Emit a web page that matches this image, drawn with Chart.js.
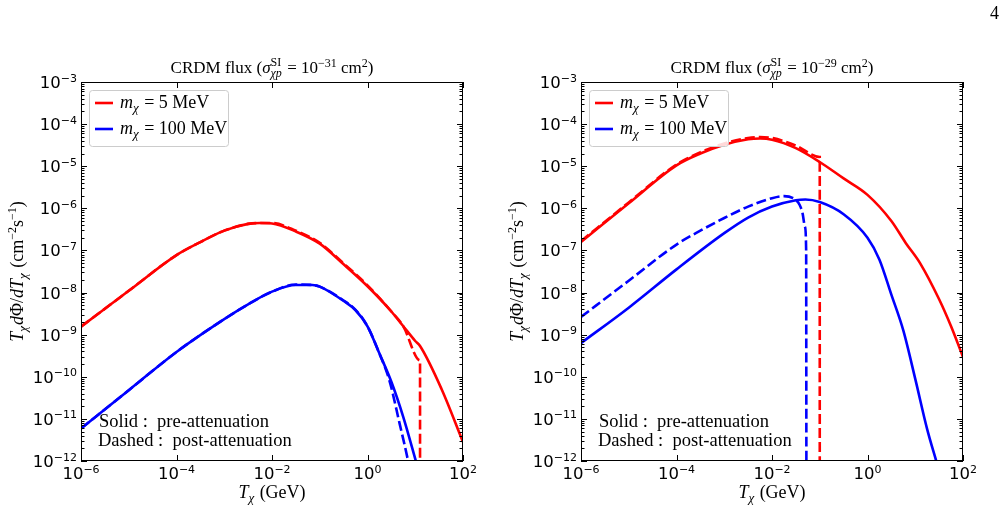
<!DOCTYPE html>
<html>
<head>
<meta charset="utf-8">
<script src="https://cdn.jsdelivr.net/npm/chart.js@4.4.1/dist/chart.umd.min.js"></script>
<style>
    html, body { margin: 0; padding: 0; background: #fff; }
    #wrap { position: relative; width: 1006px; height: 510px; overflow: hidden; }
    .panel { position: absolute; top: 0; height: 510px; }
    #page-no { position: absolute; left: 990px; top: 3px; font: 18px "Liberation Serif", serif; color: #000; }
</style>
</head>
<body>
<div id="wrap">
    <div class="panel" style="left:0;width:503px"><canvas id="crdm-left"></canvas></div>
    <div class="panel" style="left:500px;width:506px"><canvas id="crdm-right"></canvas></div>
    <div id="page-no">4</div>
</div>
<script>
// ---- 刻度 ----
const X_TICK_VALUES = [1e-6, 1e-4, 1e-2, 1, 1e2];
const X_TICK_EXP = ['−6', '−4', '−2', '0', '2'];
const Y_TICK_VALUES = [1e-12, 1e-11, 1e-10, 1e-9, 1e-8, 1e-7, 1e-6, 1e-5, 1e-4, 1e-3];
const Y_TICK_EXP = ['−12', '−11', '−10', '−9', '−8', '−7', '−6', '−5', '−4', '−3'];

// ---- 左圖 sigma = 1e-31 cm^2 ----
const L_RED_T = [1e-6, 1e-5, 1e-4, 3.16e-4, 1e-3, 3.16e-3, 5.62e-3, 1e-2, 3.16e-2, 0.1, 0.316, 1, 3.16, 5.62, 10, 12.6, 35.5, 100];
const L_RED_PRE = [1.55e-9, 1.10e-8, 7.76e-8, 1.58e-7, 2.95e-7, 4.27e-7, 4.47e-7, 4.37e-7, 2.82e-7, 1.45e-7, 4.68e-8, 1.41e-8, 3.55e-9, 1.58e-9, 7.08e-10, 5.37e-10, 5.13e-11, 2.82e-12];
const L_RED_POST_T = [1e-6, 1e-5, 1e-4, 3.16e-4, 1e-3, 3.16e-3, 5.62e-3, 1e-2, 3.16e-2, 0.1, 0.316, 1, 3.16, 5.62, 12.6, 12.6];
const L_RED_POST = [1.55e-9, 1.10e-8, 7.76e-8, 1.58e-7, 2.95e-7, 4.27e-7, 4.47e-7, 4.47e-7, 2.95e-7, 1.51e-7, 4.90e-8, 1.48e-8, 3.55e-9, 1.58e-9, 2.45e-10, 1e-12];
const L_BLUE_T = [1e-6, 1e-5, 1e-4, 1e-3, 3.16e-3, 1e-2, 3.16e-2, 7.08e-2, 0.1, 0.316, 0.562, 1, 1.78, 3.16, 5.62, 10, 11.2];
const L_BLUE_PRE = [5.89e-12, 4.79e-11, 3.89e-10, 2.34e-9, 5.25e-9, 1.05e-8, 1.51e-8, 1.51e-8, 1.38e-8, 6.31e-9, 3.80e-9, 1.58e-9, 3.55e-10, 7.59e-11, 1.10e-11, 1.12e-12, 7.08e-13];
const L_BLUE_POST_T = [1e-6, 1e-5, 1e-4, 1e-3, 3.16e-3, 1e-2, 3.16e-2, 7.08e-2, 0.1, 0.316, 0.562, 1, 1.78, 2.88, 4.68, 7.08, 7.94];
const L_BLUE_POST = [5.89e-12, 4.79e-11, 3.89e-10, 2.34e-9, 5.25e-9, 1.05e-8, 1.55e-8, 1.51e-8, 1.38e-8, 6.46e-9, 3.89e-9, 1.58e-9, 3.55e-10, 8.13e-11, 7.94e-12, 1e-12, 5.01e-13];

// ---- 右圖 sigma = 1e-29 cm^2 ----
const R_RED_T = [1e-6, 1e-5, 1e-4, 3.16e-4, 1e-3, 3.16e-3, 5.62e-3, 1e-2, 3.16e-2, 0.1, 0.316, 1, 3.16, 6.31, 12.6, 31.6, 56.2, 100];
const R_RED_PRE = [1.58e-7, 1.32e-6, 1.05e-5, 2.00e-5, 3.24e-5, 4.37e-5, 4.57e-5, 4.27e-5, 2.69e-5, 1.26e-5, 5.13e-6, 2.09e-6, 5.01e-7, 1.51e-7, 5.01e-8, 6.92e-9, 1.58e-9, 2.95e-10];
const R_RED_POST_T = [1e-6, 1e-5, 1e-4, 3.16e-4, 1e-3, 3.16e-3, 5.62e-3, 1e-2, 3.16e-2, 0.1, 0.1];
const R_RED_POST = [1.66e-7, 1.38e-6, 1.10e-5, 2.14e-5, 3.47e-5, 4.68e-5, 4.90e-5, 4.68e-5, 3.09e-5, 1.66e-5, 1e-12];
const R_BLUE_T = [1e-6, 1e-5, 1e-4, 1e-3, 3.16e-3, 1e-2, 3.16e-2, 5.01e-2, 0.1, 0.316, 1, 1.78, 3.16, 5.62, 10, 17.8, 27.5];
const R_BLUE_PRE = [6.31e-10, 4.37e-9, 3.55e-8, 2.57e-7, 6.03e-7, 1.10e-6, 1.55e-6, 1.62e-6, 1.41e-6, 7.24e-7, 2.00e-7, 6.03e-8, 8.91e-9, 1.26e-9, 8.91e-11, 5.62e-12, 1e-12];
const R_BLUE_POST_T = [1e-6, 1e-5, 1e-4, 3.16e-4, 1e-3, 3.16e-3, 1e-2, 1.78e-2, 3.16e-2, 3.80e-2, 4.37e-2, 4.90e-2, 5.19e-2, 5.25e-2];
const R_BLUE_POST = [2.63e-9, 1.91e-8, 1.38e-7, 2.95e-7, 5.89e-7, 1.10e-6, 1.74e-6, 1.95e-6, 1.58e-6, 1.20e-6, 7.59e-7, 3.63e-7, 1e-7, 1e-12];

const SERIF = '"Liberation Serif", "Times New Roman", serif';
const SANS = '"DejaVu Sans", sans-serif';
const RED = '#ff0000';
const BLUE = '#0000ff';

function runFont(r) {
    return (r.i ? 'italic ' : '') + r.s + 'px ' + (r.fam || SERIF);
}

function runWidth(ctx, r) {
    ctx.font = runFont(r);
    if (r.stack) {
        return Math.max(ctx.measureText(r.stack[0]).width, ctx.measureText(r.stack[1]).width) + 1;
    }
    return ctx.measureText(r.t).width + (r.gap || 0);
}

// 逐段繪製帶上下標的文字
function drawRuns(ctx, runs, x, y, align) {
    const total = runs.reduce((acc, r) => acc + runWidth(ctx, r), 0);
    let cx = align === 'center' ? x - total / 2 : (align === 'right' ? x - total : x);
    ctx.textAlign = 'left';
    ctx.textBaseline = 'alphabetic';
    ctx.fillStyle = '#000';
    runs.forEach(r => {
        const w = runWidth(ctx, r);
        ctx.font = runFont(r);
        if (r.stack) {
            ctx.font = r.s + 'px ' + SERIF;
            ctx.fillText(r.stack[0], cx, y - r.up);
            ctx.font = 'italic ' + r.s + 'px ' + SERIF;
            ctx.fillText(r.stack[1], cx, y + r.down);
        } else {
            ctx.fillText(r.t, cx, y + (r.dy || 0));
        }
        cx += w;
    });
}

function mathTx(size) {
    return [{ t: 'T', s: size, i: true }, { t: 'χ', s: Math.round(size * 0.7), i: true, dy: 4, gap: 1 }];
}

const framePlugin = {
    id: 'crdmFrame',
    afterDraw(chart) {
        const cfg = chart.options.plugins.crdmFrame;
        const ctx = chart.ctx;
        const a = chart.chartArea;
        const xs = chart.scales.x;
        const ys = chart.scales.y;
        ctx.save();

        // 外框
        ctx.strokeStyle = '#000';
        ctx.lineWidth = 1;
        ctx.strokeRect(a.left + 0.5, a.top + 0.5, a.right - a.left - 1, a.bottom - a.top - 1);

        // 內向刻度
        ctx.beginPath();
        Y_TICK_VALUES.forEach((v, idx) => {
            const py = Math.round(ys.getPixelForValue(v)) + 0.5;
            ctx.moveTo(a.left, py); ctx.lineTo(a.left + 6, py);
            ctx.moveTo(a.right, py); ctx.lineTo(a.right - 6, py);
            if (idx < Y_TICK_VALUES.length - 1) {
                for (let m = 2; m <= 9; m++) {
                    const my = Math.round(ys.getPixelForValue(v * m)) + 0.5;
                    ctx.moveTo(a.left, my); ctx.lineTo(a.left + 3.5, my);
                    ctx.moveTo(a.right, my); ctx.lineTo(a.right - 3.5, my);
                }
            }
        });
        X_TICK_VALUES.forEach(v => {
            const px = Math.round(xs.getPixelForValue(v)) + 0.5;
            ctx.moveTo(px, a.top); ctx.lineTo(px, a.top + 6);
            ctx.moveTo(px, a.bottom); ctx.lineTo(px, a.bottom - 6);
        });
        ctx.stroke();

        // 刻度標籤
        Y_TICK_VALUES.forEach((v, idx) => {
            const py = ys.getPixelForValue(v);
            drawRuns(ctx, [
                { t: '10', s: 16.5, fam: SANS },
                { t: Y_TICK_EXP[idx], s: 11, fam: SANS, dy: -6.5 }
            ], a.left - 4, py + 6, 'right');
        });
        X_TICK_VALUES.forEach((v, idx) => {
            const px = xs.getPixelForValue(v);
            drawRuns(ctx, [
                { t: '10', s: 16.5, fam: SANS },
                { t: X_TICK_EXP[idx], s: 11, fam: SANS, dy: -6.5 }
            ], px, a.bottom + 18, 'center');
        });

        const cxMid = (a.left + a.right) / 2;

        // 標題
        drawRuns(ctx, [
            { t: 'CRDM flux (', s: 17 },
            { t: 'σ', s: 17, i: true },
            { stack: ['SI', 'χp'], s: 12, up: 7, down: 4 },
            { t: ' = 10', s: 17 },
            { t: cfg.sigmaExp, s: 12, dy: -6 },
            { t: ' cm', s: 17 },
            { t: '2', s: 12, dy: -6 },
            { t: ')', s: 17 }
        ], cxMid, 73, 'center');

        // X 軸標題
        drawRuns(ctx, mathTx(18).concat([{ t: ' (GeV)', s: 18 }]), cxMid, 498, 'center');

        // Y 軸標題
        ctx.save();
        ctx.translate(23, (a.top + a.bottom) / 2);
        ctx.rotate(-Math.PI / 2);
        drawRuns(ctx, mathTx(18).concat([
            { t: 'd', s: 18, i: true },
            { t: 'Φ/', s: 18 },
            { t: 'dT', s: 18, i: true },
            { t: 'χ', s: 13, i: true, dy: 4, gap: 1 },
            { t: ' (cm', s: 18 },
            { t: '−2', s: 12, dy: -7 },
            { t: 's', s: 18 },
            { t: '−1', s: 12, dy: -7 },
            { t: ')', s: 18 }
        ]), 0, 0, 'center');
        ctx.restore();

        // 圖例
        const lx = a.left + 8.5, ly = a.top + 8.5, lw = 139, lh = 56;
        ctx.fillStyle = 'rgba(255,255,255,0.85)';
        ctx.strokeStyle = '#cccccc';
        ctx.lineWidth = 1;
        ctx.beginPath();
        ctx.roundRect(lx, ly, lw, lh, 3);
        ctx.fill();
        ctx.stroke();
        [[RED, '5 MeV', 21], [BLUE, '100 MeV', 47]].forEach(([col, txt, dy]) => {
            ctx.strokeStyle = col;
            ctx.lineWidth = 2.6;
            ctx.beginPath();
            ctx.moveTo(a.left + 14, a.top + dy);
            ctx.lineTo(a.left + 32, a.top + dy);
            ctx.stroke();
            drawRuns(ctx, [
                { t: 'm', s: 18, i: true },
                { t: 'χ', s: 13, i: true, dy: 4, gap: 1 },
                { t: ' = ' + txt, s: 18 }
            ], a.left + 39, a.top + dy + 5, 'left');
        });

        // 實線 / 虛線說明
        drawRuns(ctx, [{ t: 'Solid :  pre-attenuation', s: 18.5 }], a.left + 18, 427, 'left');
        drawRuns(ctx, [{ t: 'Dashed :  post-attenuation', s: 18.5 }], a.left + 17, 446, 'left');

        ctx.restore();
    }
};

function toPoints(ts, vals) {
    return ts.map((t, i) => ({ x: t, y: vals[i] }));
}

function makeSeries(label, ts, vals, color, dashed) {
    return {
        label: label,
        data: toPoints(ts, vals),
        borderColor: color,
        backgroundColor: color,
        borderWidth: 2.6,
        borderDash: dashed ? [10, 4] : [],
        pointRadius: 0,
        cubicInterpolationMode: 'monotone',
        showLine: true,
        clip: 0
    };
}

function renderCrdmChart(canvasId, series, sigmaExp) {
    const canvas = document.getElementById(canvasId);
    if (!canvas) return null;
    const parentWidth = canvas.parentElement.clientWidth;
    return new Chart(canvas, {
        type: 'scatter',
        data: { datasets: series },
        options: {
            responsive: true,
            maintainAspectRatio: false,
            animation: false,
            layout: { padding: { left: 81, top: 82, right: parentWidth - 463, bottom: 49 } },
            scales: {
                x: { type: 'logarithmic', min: 1e-6, max: 1e2, display: false },
                y: { type: 'logarithmic', min: 1e-12, max: 1e-3, display: false }
            },
            plugins: {
                legend: { display: false },
                tooltip: { enabled: false },
                crdmFrame: { sigmaExp: sigmaExp }
            }
        },
        plugins: [framePlugin]
    });
}

renderCrdmChart('crdm-left', [
    makeSeries('m = 5 MeV pre', L_RED_T, L_RED_PRE, RED, false),
    makeSeries('m = 5 MeV post', L_RED_POST_T, L_RED_POST, RED, true),
    makeSeries('m = 100 MeV pre', L_BLUE_T, L_BLUE_PRE, BLUE, false),
    makeSeries('m = 100 MeV post', L_BLUE_POST_T, L_BLUE_POST, BLUE, true)
], '−31');

renderCrdmChart('crdm-right', [
    makeSeries('m = 5 MeV pre', R_RED_T, R_RED_PRE, RED, false),
    makeSeries('m = 5 MeV post', R_RED_POST_T, R_RED_POST, RED, true),
    makeSeries('m = 100 MeV pre', R_BLUE_T, R_BLUE_PRE, BLUE, false),
    makeSeries('m = 100 MeV post', R_BLUE_POST_T, R_BLUE_POST, BLUE, true)
], '−29');
</script>
</body>
</html>
